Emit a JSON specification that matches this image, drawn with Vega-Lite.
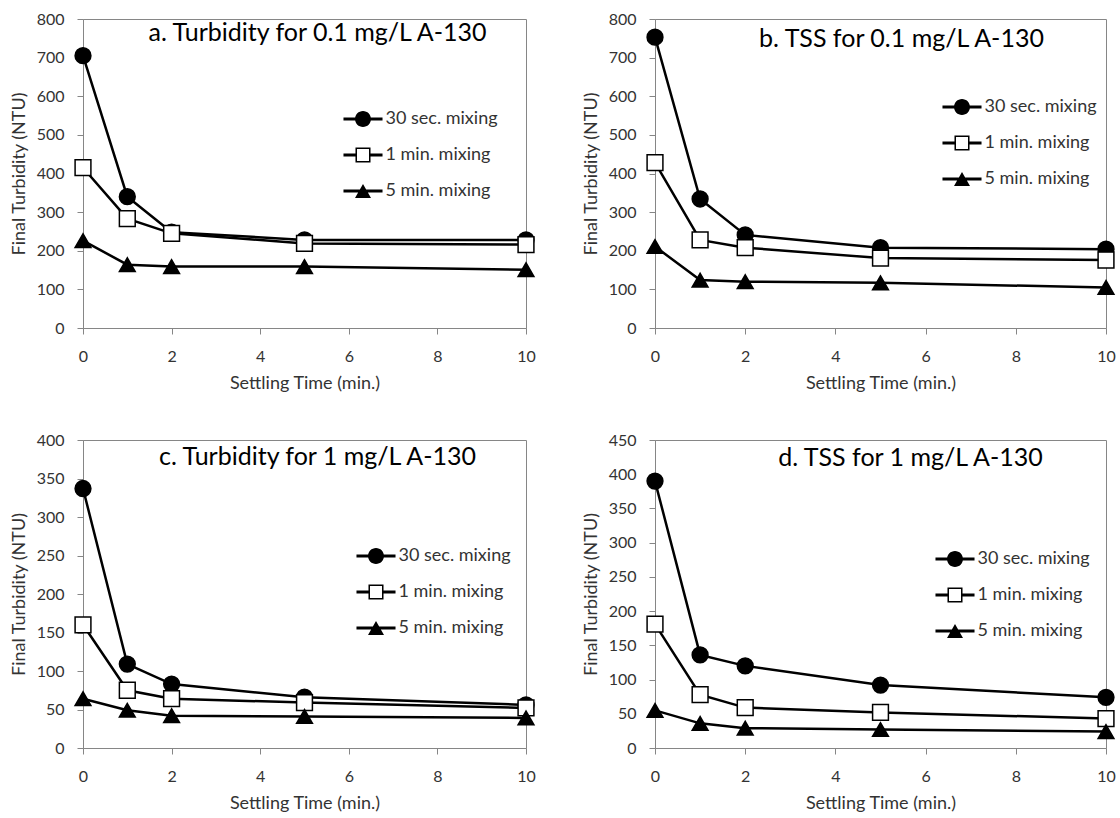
{
  "$schema": "https://vega.github.io/schema/vega-lite/v6.json",
  "padding": {"left": 9, "top": 10, "right": 0, "bottom": 0},
  "background": "white",
  "data": {"values": [
    {"panel": "a", "series": "30 sec. mixing", "t": 0, "v": 705},
    {"panel": "a", "series": "30 sec. mixing", "t": 1, "v": 340},
    {"panel": "a", "series": "30 sec. mixing", "t": 2, "v": 248},
    {"panel": "a", "series": "30 sec. mixing", "t": 5, "v": 228},
    {"panel": "a", "series": "30 sec. mixing", "t": 10, "v": 228},
    {"panel": "a", "series": "1 min. mixing", "t": 0, "v": 415},
    {"panel": "a", "series": "1 min. mixing", "t": 1, "v": 283},
    {"panel": "a", "series": "1 min. mixing", "t": 2, "v": 245},
    {"panel": "a", "series": "1 min. mixing", "t": 5, "v": 219},
    {"panel": "a", "series": "1 min. mixing", "t": 10, "v": 216},
    {"panel": "a", "series": "5 min. mixing", "t": 0, "v": 226},
    {"panel": "a", "series": "5 min. mixing", "t": 1, "v": 164},
    {"panel": "a", "series": "5 min. mixing", "t": 2, "v": 159},
    {"panel": "a", "series": "5 min. mixing", "t": 5, "v": 159},
    {"panel": "a", "series": "5 min. mixing", "t": 10, "v": 151},
    {"panel": "b", "series": "30 sec. mixing", "t": 0, "v": 753},
    {"panel": "b", "series": "30 sec. mixing", "t": 1, "v": 334},
    {"panel": "b", "series": "30 sec. mixing", "t": 2, "v": 241},
    {"panel": "b", "series": "30 sec. mixing", "t": 5, "v": 208},
    {"panel": "b", "series": "30 sec. mixing", "t": 10, "v": 204},
    {"panel": "b", "series": "1 min. mixing", "t": 0, "v": 428},
    {"panel": "b", "series": "1 min. mixing", "t": 1, "v": 228},
    {"panel": "b", "series": "1 min. mixing", "t": 2, "v": 208},
    {"panel": "b", "series": "1 min. mixing", "t": 5, "v": 181},
    {"panel": "b", "series": "1 min. mixing", "t": 10, "v": 176},
    {"panel": "b", "series": "5 min. mixing", "t": 0, "v": 211},
    {"panel": "b", "series": "5 min. mixing", "t": 1, "v": 124},
    {"panel": "b", "series": "5 min. mixing", "t": 2, "v": 120},
    {"panel": "b", "series": "5 min. mixing", "t": 5, "v": 117},
    {"panel": "b", "series": "5 min. mixing", "t": 10, "v": 105},
    {"panel": "c", "series": "30 sec. mixing", "t": 0, "v": 337},
    {"panel": "c", "series": "30 sec. mixing", "t": 1, "v": 109},
    {"panel": "c", "series": "30 sec. mixing", "t": 2, "v": 83},
    {"panel": "c", "series": "30 sec. mixing", "t": 5, "v": 66},
    {"panel": "c", "series": "30 sec. mixing", "t": 10, "v": 56},
    {"panel": "c", "series": "1 min. mixing", "t": 0, "v": 160},
    {"panel": "c", "series": "1 min. mixing", "t": 1, "v": 75},
    {"panel": "c", "series": "1 min. mixing", "t": 2, "v": 64},
    {"panel": "c", "series": "1 min. mixing", "t": 5, "v": 59},
    {"panel": "c", "series": "1 min. mixing", "t": 10, "v": 52},
    {"panel": "c", "series": "5 min. mixing", "t": 0, "v": 64},
    {"panel": "c", "series": "5 min. mixing", "t": 1, "v": 49},
    {"panel": "c", "series": "5 min. mixing", "t": 2, "v": 42},
    {"panel": "c", "series": "5 min. mixing", "t": 5, "v": 41},
    {"panel": "c", "series": "5 min. mixing", "t": 10, "v": 39},
    {"panel": "d", "series": "30 sec. mixing", "t": 0, "v": 390},
    {"panel": "d", "series": "30 sec. mixing", "t": 1, "v": 136},
    {"panel": "d", "series": "30 sec. mixing", "t": 2, "v": 120},
    {"panel": "d", "series": "30 sec. mixing", "t": 5, "v": 92},
    {"panel": "d", "series": "30 sec. mixing", "t": 10, "v": 74},
    {"panel": "d", "series": "1 min. mixing", "t": 0, "v": 181},
    {"panel": "d", "series": "1 min. mixing", "t": 1, "v": 78},
    {"panel": "d", "series": "1 min. mixing", "t": 2, "v": 59},
    {"panel": "d", "series": "1 min. mixing", "t": 5, "v": 52},
    {"panel": "d", "series": "1 min. mixing", "t": 10, "v": 43},
    {"panel": "d", "series": "5 min. mixing", "t": 0, "v": 55},
    {"panel": "d", "series": "5 min. mixing", "t": 1, "v": 36},
    {"panel": "d", "series": "5 min. mixing", "t": 2, "v": 29},
    {"panel": "d", "series": "5 min. mixing", "t": 5, "v": 27},
    {"panel": "d", "series": "5 min. mixing", "t": 10, "v": 24}
  ]},
  "vconcat": [
    {
      "hconcat": [
        {
          "width": 443, "height": 309,
          "transform": [{"filter": "datum.panel == 'a'"}],
          "title": {"text": "a. Turbidity for 0.1 mg/L A-130", "frame": "group", "anchor": "middle", "dx": 13, "offset": -55, "baseline": "alphabetic"},
          "encoding": {
            "x": {"field": "t", "type": "quantitative", "title": "Settling Time (min.)", "scale": {"domain": [0, 10], "nice": false}, "axis": {"values": [0, 2, 4, 6, 8, 10]}},
            "y": {"field": "v", "type": "quantitative", "title": "Final Turbidity (NTU)", "scale": {"domain": [0, 800], "nice": false}, "axis": {"values": [0, 100, 200, 300, 400, 500, 600, 700, 800]}}
          },
          "layer": [
            {"mark": {"type": "line", "color": "black", "strokeWidth": 2.5}, "encoding": {"detail": {"field": "series"}}},
            {"mark": {"type": "point", "filled": true, "opacity": 1, "stroke": "black", "strokeWidth": 1.5, "size": 250},
             "encoding": {
               "shape": {"field": "series", "scale": {"domain": ["30 sec. mixing", "1 min. mixing", "5 min. mixing"], "range": ["circle", "square", "triangle-up"]}, "legend": null},
               "fill": {"field": "series", "scale": {"domain": ["30 sec. mixing", "1 min. mixing", "5 min. mixing"], "range": ["black", "white", "black"]}, "legend": null}
             }},
            {"mark": {"type": "point", "filled": true, "opacity": 0, "color": "black"},
             "encoding": {
               "shape": {"field": "series", "scale": {"domain": ["30 sec. mixing", "1 min. mixing", "5 min. mixing"], "range": ["M-2.44,-0.19H2.44V0.19H-2.44Z M1,0A1,1,0,1,1,-1,0A1,1,0,1,1,1,0Z", "M-2.44,-0.19H-0.94V0.19H-2.44Z M0.94,-0.19H2.44V0.19H0.94Z M-0.94,-0.94H0.94V0.94H-0.94Z M-0.75,-0.75V0.75H0.75V-0.75Z", "M-2.44,-0.19H2.44V0.19H-2.44Z M0,-0.87L1,0.87H-1Z"]},
                 "legend": {"orient": "none", "legendX": 271, "legendY": 91, "title": null}}
             }}
          ],
          "resolve": {"scale": {"shape": "independent"}, "legend": {"shape": "independent"}}
        },
        {
          "width": 451, "height": 309,
          "transform": [{"filter": "datum.panel == 'b'"}],
          "title": {"text": "b. TSS for 0.1 mg/L A-130", "frame": "group", "anchor": "middle", "dx": 21, "offset": -61, "baseline": "alphabetic"},
          "encoding": {
            "x": {"field": "t", "type": "quantitative", "title": "Settling Time (min.)", "scale": {"domain": [0, 10], "nice": false}, "axis": {"values": [0, 2, 4, 6, 8, 10]}},
            "y": {"field": "v", "type": "quantitative", "title": "Final Turbidity (NTU)", "scale": {"domain": [0, 800], "nice": false}, "axis": {"values": [0, 100, 200, 300, 400, 500, 600, 700, 800]}}
          },
          "layer": [
            {"mark": {"type": "line", "color": "black", "strokeWidth": 2.5}, "encoding": {"detail": {"field": "series"}}},
            {"mark": {"type": "point", "filled": true, "opacity": 1, "stroke": "black", "strokeWidth": 1.5, "size": 250},
             "encoding": {
               "shape": {"field": "series", "scale": {"domain": ["30 sec. mixing", "1 min. mixing", "5 min. mixing"], "range": ["circle", "square", "triangle-up"]}, "legend": null},
               "fill": {"field": "series", "scale": {"domain": ["30 sec. mixing", "1 min. mixing", "5 min. mixing"], "range": ["black", "white", "black"]}, "legend": null}
             }},
            {"mark": {"type": "point", "filled": true, "opacity": 0, "color": "black"},
             "encoding": {
               "shape": {"field": "series", "scale": {"domain": ["30 sec. mixing", "1 min. mixing", "5 min. mixing"], "range": ["M-2.44,-0.19H2.44V0.19H-2.44Z M1,0A1,1,0,1,1,-1,0A1,1,0,1,1,1,0Z", "M-2.44,-0.19H-0.94V0.19H-2.44Z M0.94,-0.19H2.44V0.19H0.94Z M-0.94,-0.94H0.94V0.94H-0.94Z M-0.75,-0.75V0.75H0.75V-0.75Z", "M-2.44,-0.19H2.44V0.19H-2.44Z M0,-0.87L1,0.87H-1Z"]},
                 "legend": {"orient": "none", "legendX": 298, "legendY": 79, "title": null}}
             }}
          ],
          "resolve": {"scale": {"shape": "independent"}, "legend": {"shape": "independent"}}
        }
      ],
      "spacing": 43,
      "resolve": {"scale": {"shape": "independent", "fill": "independent"}, "legend": {"shape": "independent", "fill": "independent"}}
    },
    {
      "hconcat": [
        {
          "width": 443, "height": 308,
          "transform": [{"filter": "datum.panel == 'c'"}],
          "title": {"text": "c. Turbidity for 1 mg/L A-130", "frame": "group", "anchor": "middle", "dx": 13, "offset": -58, "baseline": "alphabetic"},
          "encoding": {
            "x": {"field": "t", "type": "quantitative", "title": "Settling Time (min.)", "scale": {"domain": [0, 10], "nice": false}, "axis": {"values": [0, 2, 4, 6, 8, 10]}},
            "y": {"field": "v", "type": "quantitative", "title": "Final Turbidity (NTU)", "scale": {"domain": [0, 400], "nice": false}, "axis": {"values": [0, 50, 100, 150, 200, 250, 300, 350, 400]}}
          },
          "layer": [
            {"mark": {"type": "line", "color": "black", "strokeWidth": 2.5}, "encoding": {"detail": {"field": "series"}}},
            {"mark": {"type": "point", "filled": true, "opacity": 1, "stroke": "black", "strokeWidth": 1.5, "size": 250},
             "encoding": {
               "shape": {"field": "series", "scale": {"domain": ["30 sec. mixing", "1 min. mixing", "5 min. mixing"], "range": ["circle", "square", "triangle-up"]}, "legend": null},
               "fill": {"field": "series", "scale": {"domain": ["30 sec. mixing", "1 min. mixing", "5 min. mixing"], "range": ["black", "white", "black"]}, "legend": null}
             }},
            {"mark": {"type": "point", "filled": true, "opacity": 0, "color": "black"},
             "encoding": {
               "shape": {"field": "series", "scale": {"domain": ["30 sec. mixing", "1 min. mixing", "5 min. mixing"], "range": ["M-2.44,-0.19H2.44V0.19H-2.44Z M1,0A1,1,0,1,1,-1,0A1,1,0,1,1,1,0Z", "M-2.44,-0.19H-0.94V0.19H-2.44Z M0.94,-0.19H2.44V0.19H0.94Z M-0.94,-0.94H0.94V0.94H-0.94Z M-0.75,-0.75V0.75H0.75V-0.75Z", "M-2.44,-0.19H2.44V0.19H-2.44Z M0,-0.87L1,0.87H-1Z"]},
                 "legend": {"orient": "none", "legendX": 284, "legendY": 107, "title": null}}
             }}
          ],
          "resolve": {"scale": {"shape": "independent"}, "legend": {"shape": "independent"}}
        },
        {
          "width": 451, "height": 308,
          "transform": [{"filter": "datum.panel == 'd'"}],
          "title": {"text": "d. TSS for 1 mg/L A-130", "frame": "group", "anchor": "middle", "dx": 30, "offset": -59, "baseline": "alphabetic"},
          "encoding": {
            "x": {"field": "t", "type": "quantitative", "title": "Settling Time (min.)", "scale": {"domain": [0, 10], "nice": false}, "axis": {"values": [0, 2, 4, 6, 8, 10]}},
            "y": {"field": "v", "type": "quantitative", "title": "Final Turbidity (NTU)", "scale": {"domain": [0, 450], "nice": false}, "axis": {"values": [0, 50, 100, 150, 200, 250, 300, 350, 400, 450]}}
          },
          "layer": [
            {"mark": {"type": "line", "color": "black", "strokeWidth": 2.5}, "encoding": {"detail": {"field": "series"}}},
            {"mark": {"type": "point", "filled": true, "opacity": 1, "stroke": "black", "strokeWidth": 1.5, "size": 250},
             "encoding": {
               "shape": {"field": "series", "scale": {"domain": ["30 sec. mixing", "1 min. mixing", "5 min. mixing"], "range": ["circle", "square", "triangle-up"]}, "legend": null},
               "fill": {"field": "series", "scale": {"domain": ["30 sec. mixing", "1 min. mixing", "5 min. mixing"], "range": ["black", "white", "black"]}, "legend": null}
             }},
            {"mark": {"type": "point", "filled": true, "opacity": 0, "color": "black"},
             "encoding": {
               "shape": {"field": "series", "scale": {"domain": ["30 sec. mixing", "1 min. mixing", "5 min. mixing"], "range": ["M-2.44,-0.19H2.44V0.19H-2.44Z M1,0A1,1,0,1,1,-1,0A1,1,0,1,1,1,0Z", "M-2.44,-0.19H-0.94V0.19H-2.44Z M0.94,-0.19H2.44V0.19H0.94Z M-0.94,-0.94H0.94V0.94H-0.94Z M-0.75,-0.75V0.75H0.75V-0.75Z", "M-2.44,-0.19H2.44V0.19H-2.44Z M0,-0.87L1,0.87H-1Z"]},
                 "legend": {"orient": "none", "legendX": 291, "legendY": 110, "title": null}}
             }}
          ],
          "resolve": {"scale": {"shape": "independent"}, "legend": {"shape": "independent"}}
        }
      ],
      "spacing": 43,
      "resolve": {"scale": {"shape": "independent", "fill": "independent"}, "legend": {"shape": "independent", "fill": "independent"}}
    }
  ],
  "spacing": 38,
  "resolve": {"scale": {"shape": "independent", "fill": "independent"}, "legend": {"shape": "independent", "fill": "independent"}},
  "config": {
    "font": "Lato",
    "view": {"stroke": "#868686", "strokeWidth": 1},
    "title": {"font": "Lato", "fontSize": 25, "fontWeight": "normal", "color": "#000"},
    "axis": {"grid": false, "domainColor": "#868686", "tickColor": "#868686", "tickSize": 6, "labelFont": "Lato", "labelFontSize": 16, "labelColor": "#333", "titleFont": "Lato", "titleFontSize": 18, "titleFontWeight": "normal", "titleColor": "#333", "labelFlush": false},
    "axisY": {"labelPadding": 13, "titlePadding": 8},
    "axisX": {"labelPadding": 14, "titlePadding": 10},
    "legend": {"labelFont": "Lato", "labelFontSize": 18, "labelColor": "#333", "padding": 0, "rowPadding": 18, "labelOffset": 13.5, "symbolSize": 256, "symbolFillColor": "black", "symbolStrokeColor": "black", "symbolStrokeWidth": 0, "symbolOpacity": 1, "direction": "vertical"}
  }
}
